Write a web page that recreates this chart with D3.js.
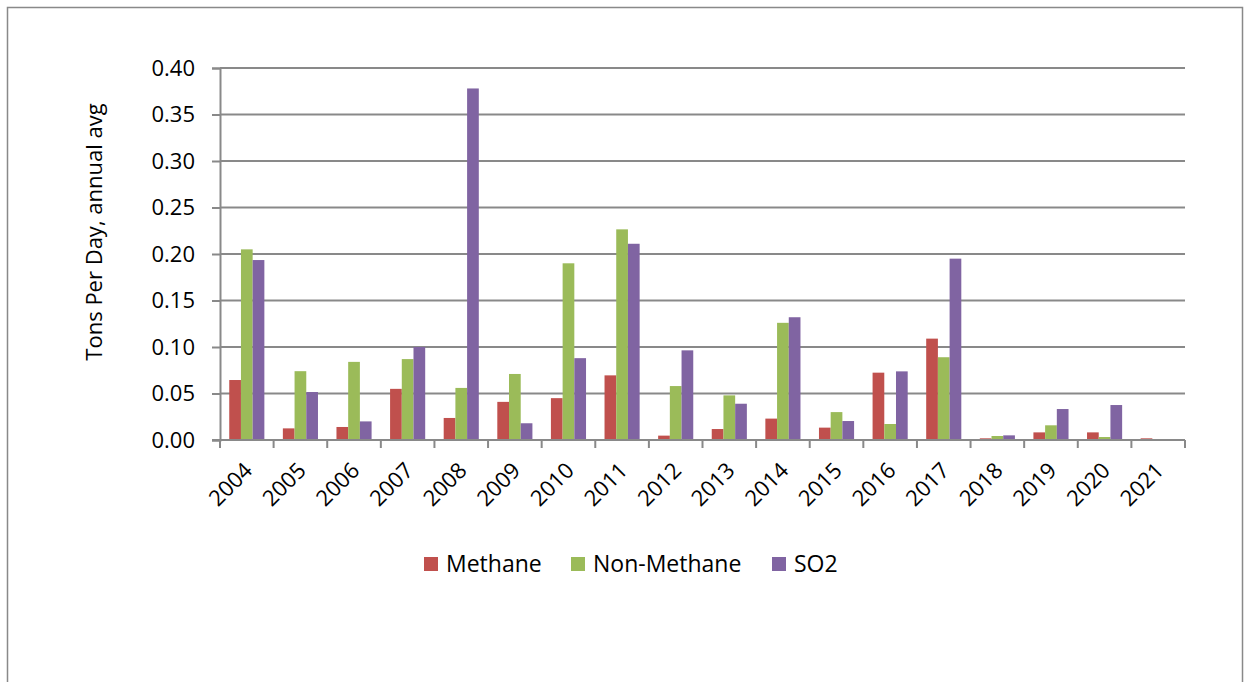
<!DOCTYPE html>
<html>
<head>
<meta charset="utf-8">
<script src="https://cdn.jsdelivr.net/npm/d3@7"></script>
<style>
	body { margin: 0; background: #fff; }
	text { font-family: "Open Sans", "Noto Sans", sans-serif; fill: #000; }
</style>
</head>
<body>
<svg id="chart" width="1244" height="682"></svg>
<script>
	/* Data */
	const years = ["2004", "2005", "2006", "2007", "2008", "2009", "2010", "2011", "2012",
		"2013", "2014", "2015", "2016", "2017", "2018", "2019", "2020", "2021"];
	const seriesNames = ["Methane", "Non-Methane", "SO2"];
	const methane = [0.0645, 0.0125, 0.014, 0.055, 0.0237, 0.041, 0.045, 0.0695, 0.0047,
		0.0118, 0.023, 0.0133, 0.0724, 0.109, 0.0018, 0.0082, 0.0082, 0.0018];
	const nonMethane = [0.205, 0.074, 0.084, 0.087, 0.056, 0.071, 0.190, 0.2265, 0.058,
		0.048, 0.126, 0.030, 0.0172, 0.089, 0.0043, 0.0158, 0.0032, 0.0006];
	const so2 = [0.1935, 0.0516, 0.020, 0.100, 0.378, 0.018, 0.088, 0.211, 0.0964,
		0.039, 0.132, 0.0204, 0.0738, 0.195, 0.005, 0.0333, 0.0376, 0.0];
	const yTicks = [0, 0.05, 0.10, 0.15, 0.20, 0.25, 0.30, 0.35, 0.40];
	const colors = ["#C0504D", "#9BBB59", "#8064A2"];

	const svg = d3.select("#chart");
	const grid = "#898989";

	// outer frame
	svg.append("rect")
		.attr("x", 7.5).attr("y", 7.5)
		.attr("width", 1235).attr("height", 700)
		.attr("fill", "none")
		.attr("stroke", grid)
		.attr("stroke-width", 1.5);

	const margin = { left: 220, top: 68, right: 1185, bottom: 440 };

	const x = d3.scaleBand()
		.domain(years)
		.range([margin.left, margin.right])
		.paddingInner(0.345)
		.paddingOuter(0.1725);

	const xCat = d3.scaleBand()
		.domain(years)
		.range([margin.left, margin.right]);

	const xSub = d3.scaleBand()
		.domain(seriesNames)
		.range([0, x.bandwidth()]);

	const y = d3.scaleLinear()
		.domain([0, 0.40])
		.range([margin.bottom, margin.top]);

	// gridlines
	svg.append("g")
		.selectAll("line")
		.data(yTicks.slice(1))
		.join("line")
		.attr("x1", margin.left).attr("x2", margin.right)
		.attr("y1", (d) => y(d)).attr("y2", (d) => y(d))
		.attr("stroke", grid)
		.attr("stroke-width", 2);

	// y axis
	const yAxis = svg.append("g")
		.attr("transform", `translate(${margin.left},0)`)
		.call(d3.axisLeft(y).tickValues(yTicks).tickFormat(d3.format(".2f")).tickSize(8).tickPadding(17));
	yAxis.select(".domain").attr("stroke", grid).attr("stroke-width", 2);
	yAxis.selectAll(".tick line").attr("stroke", grid).attr("stroke-width", 2);
	yAxis.selectAll(".tick text").attr("font-size", 22).attr("font-family", "Open Sans, Noto Sans, sans-serif").attr("fill", "#000");

	// bars
	const series = [methane, nonMethane, so2];
	const rows = years.map((yr, i) => ({ year: yr, values: seriesNames.map((s, j) => ({ key: s, value: series[j][i], idx: j })) }));

	svg.append("g")
		.selectAll("g")
		.data(rows)
		.join("g")
		.attr("transform", (d) => `translate(${x(d.year)},0)`)
		.selectAll("rect")
		.data((d) => d.values)
		.join("rect")
		.attr("x", (d) => xSub(d.key))
		.attr("width", xSub.bandwidth())
		.attr("y", (d) => y(d.value))
		.attr("height", (d) => y(0) - y(d.value))
		.attr("fill", (d) => colors[d.idx]);

	// x axis line and ticks at category boundaries
	svg.append("line")
		.attr("x1", margin.left - 8).attr("x2", margin.right)
		.attr("y1", y(0)).attr("y2", y(0))
		.attr("stroke", grid)
		.attr("stroke-width", 2);

	const bounds = years.map((yr) => xCat(yr)).concat([margin.right]);
	svg.append("g")
		.selectAll("line")
		.data(bounds)
		.join("line")
		.attr("x1", (d) => d).attr("x2", (d) => d)
		.attr("y1", y(0)).attr("y2", y(0) + 8)
		.attr("stroke", grid)
		.attr("stroke-width", 2);

	// x labels
	svg.append("g")
		.selectAll("text")
		.data(years)
		.join("text")
		.attr("transform", (d) => `translate(${xCat(d) + xCat.bandwidth() / 2 - 4},${y(0) + 21}) rotate(-45)`)
		.attr("text-anchor", "end")
		.attr("dy", "0.7em")
		.attr("font-size", 22)
		.text((d) => d);

	// y title
	svg.append("text")
		.attr("transform", "translate(102,232) rotate(-90)")
		.attr("text-anchor", "middle")
		.attr("font-size", 22)
		.text("Tons Per Day, annual avg");

	// legend
	const legendX = [424, 571, 772];
	const legend = svg.append("g")
		.selectAll("g")
		.data(seriesNames)
		.join("g")
		.attr("transform", (d, i) => `translate(${legendX[i]},557)`);
	legend.append("rect")
		.attr("width", 14).attr("height", 14)
		.attr("fill", (d, i) => colors[i]);
	legend.append("text")
		.attr("x", 22).attr("y", 7)
		.attr("dy", "0.35em")
		.attr("font-size", 23)
		.text((d) => d);
</script>
</body>
</html>
